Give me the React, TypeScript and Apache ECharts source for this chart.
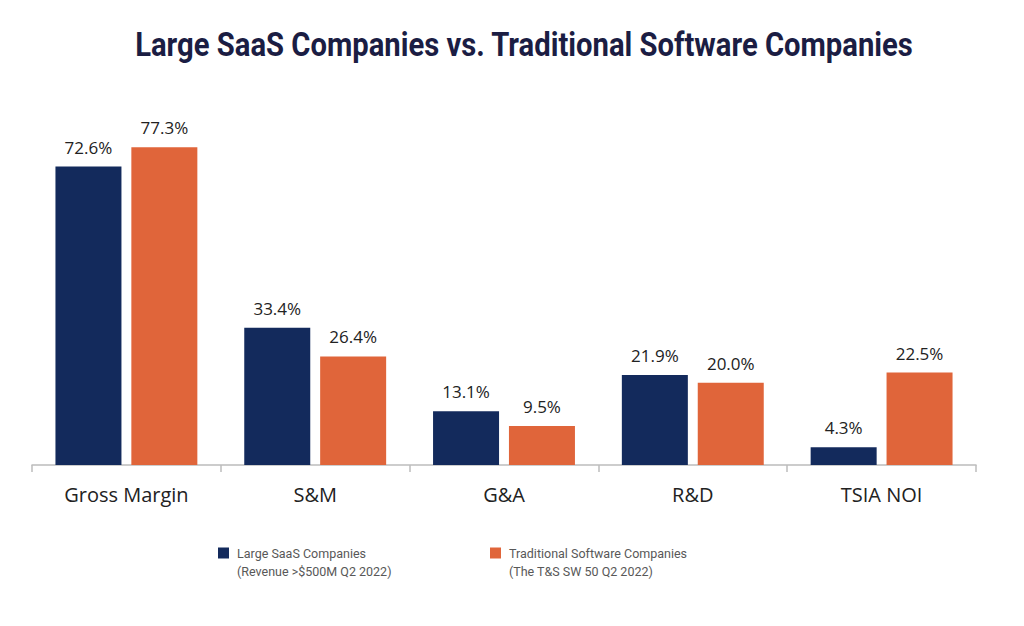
import React, { useEffect, useRef } from "react";
import * as echarts from "echarts";

const categories = ["Gross Margin", "S&M", "G&A", "R&D", "TSIA NOI"];
const saasValues = [72.6, 33.4, 13.1, 21.9, 4.3];
const traditionalValues = [77.3, 26.4, 9.5, 20.0, 22.5];
const saasName = "Large SaaS Companies\n(Revenue >$500M Q2 2022)";
const traditionalName = "Traditional Software Companies\n(The T&S SW 50 Q2 2022)";
const titleText = "Large SaaS Companies vs. Traditional Software Companies";

const NAVY = "#132a5c";
const ORANGE = "#e0653a";

// blank first line so the square sits beside the first text line
const legendFormatter = (name: string) =>
  "{b| }\n" + name.split("\n").map((s) => "{t|" + s + "}").join("\n");

const legendText = {
  fontFamily: "Roboto",
  fontSize: 12.5,
  color: "#585858",
  lineHeight: 18,
  rich: {
    b: { lineHeight: 18, fontSize: 12.5, fontFamily: "Roboto" },
    t: {
      lineHeight: 18,
      fontSize: 12.5,
      fontFamily: "Roboto",
      color: "#585858",
      padding: [0, 0, 0, 3],
    },
  },
};

const valueLabel = {
  show: true,
  position: "top",
  distance: 11,
  fontFamily: "Open Sans",
  fontSize: 17,
  color: "#222222",
  formatter: (p: any) => p.value.toFixed(1) + "%",
};

export default function App() {
  const el = useRef<HTMLDivElement>(null);

  useEffect(() => {
    if (!el.current) return;
    const chart = echarts.init(el.current, null, { renderer: "svg" });
    chart.setOption({
      animation: false,
      backgroundColor: "#ffffff",
      graphic: [
        {
          // condensed bold title: Roboto squeezed horizontally
          type: "text",
          x: 524,
          y: 45,
          scaleX: 0.86,
          style: {
            text: titleText,
            fontFamily: "Roboto",
            fontWeight: "bold",
            fontSize: 34,
            fill: "#1b1d43",
            textAlign: "center",
            textVerticalAlign: "middle",
          },
        },
      ],
      legend: [
        {
          data: [saasName],
          left: 218,
          top: 526,
          padding: 0,
          icon: "rect",
          itemWidth: 11,
          itemHeight: 11,
          formatter: legendFormatter,
          textStyle: legendText,
          selectedMode: false,
        },
        {
          data: [traditionalName],
          left: 490,
          top: 526,
          padding: 0,
          icon: "rect",
          itemWidth: 11,
          itemHeight: 11,
          formatter: legendFormatter,
          textStyle: legendText,
          selectedMode: false,
        },
      ],
      grid: {
        left: 32,
        right: 48,
        top: 54,
        height: 411,
      },
      xAxis: {
        type: "category",
        data: categories,
        axisLine: { lineStyle: { color: "#bcbcbc", width: 1.5 } },
        axisTick: { show: true, length: 7, lineStyle: { color: "#bcbcbc", width: 1.5 } },
        axisLabel: {
          fontFamily: "Open Sans",
          fontSize: 20,
          color: "#222222",
          margin: 19,
        },
      },
      yAxis: {
        type: "value",
        min: 0,
        max: 100,
        show: false,
        splitLine: { show: false },
      },
      series: [
        {
          name: saasName,
          type: "bar",
          data: saasValues,
          barWidth: 66,
          barGap: "15%",
          itemStyle: { color: NAVY },
          label: valueLabel,
        },
        {
          name: traditionalName,
          type: "bar",
          data: traditionalValues,
          barWidth: 66,
          barGap: "15%",
          itemStyle: { color: ORANGE },
          label: valueLabel,
        },
      ],
    });
    return () => {
      chart.dispose();
    };
  }, []);

  return (
    <div
      ref={el}
      style={{ position: "fixed", left: 0, top: 0, width: 1024, height: 626 }}
    />
  );
}
